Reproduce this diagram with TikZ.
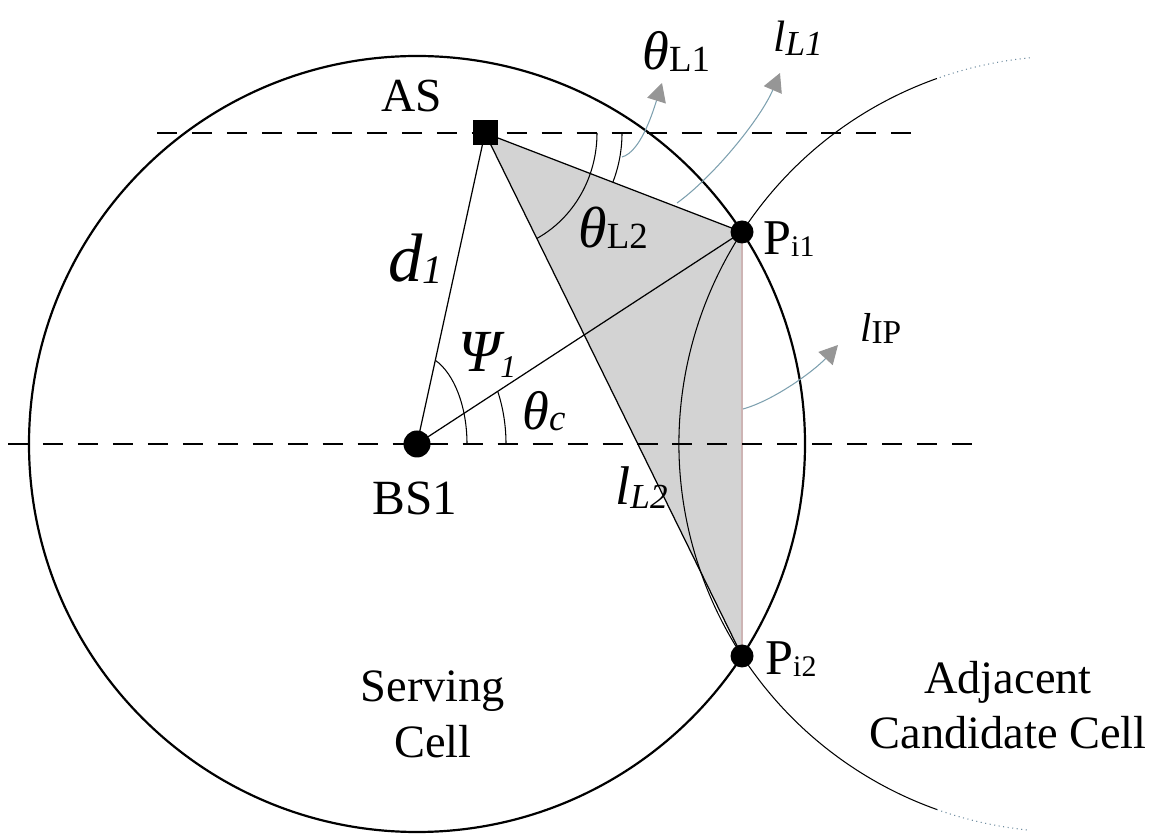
\documentclass[tikz,border=0pt]{standalone}
\usepackage{fontspec}
\setmainfont{Liberation Serif}
\usetikzlibrary{arrows.meta}
\newcommand{\fs}[1]{\fontsize{#1}{#1}\selectfont}
\definecolor{fillg}{RGB}{211,211,211}
\definecolor{edgeg}{RGB}{205,180,180}
\definecolor{arrline}{RGB}{125,160,175}
\definecolor{arrhead}{RGB}{150,150,150}
\definecolor{dotc}{RGB}{110,140,160}
\pgfdeclarelayer{bg}
\pgfsetlayers{bg,main}
\begin{document}
\begin{tikzpicture}[x=0.2mm,y=0.2mm,
 cellc/.style={line width=1.25pt},
 adjc/.style={line width=0.6pt},
 refline/.style={line width=1pt, dash pattern=on 11.4pt off 8.5pt},
 thinline/.style={line width=0.7pt},
 anglearc/.style={line width=0.6pt},
 callout/.style={line width=0.6pt, draw=arrline, -{Triangle[length=10.5pt,width=11pt,color=arrhead]}},
 dotnode/.style={circle, fill=black, inner sep=0pt, minimum size=#1},
 lab/.style={inner sep=0pt, anchor=base west},
]
\useasboundingbox (0,0) rectangle (1163,835);
\coordinate (C1) at (417,391);
\coordinate (C2) at (1067,391);
\node[dotnode=5.4mm] (BS1) at (417,391) {};
\node[dotnode=4.6mm] (Pi1) at (742,603) {};
\node[dotnode=4.6mm] (Pi2) at (742,179) {};
\node[rectangle, fill=black, inner sep=0pt, minimum size=5mm] (AS) at (485,702) {};
\coordinate (L1a) at (157,702);
\coordinate (L1b) at (915,702);
\coordinate (L2a) at (8,391);
\coordinate (L2b) at (978,391);

\begin{pgfonlayer}{bg}
\fill[fillg] (AS.center) -- (Pi1.center) -- (Pi2.center) -- cycle;
\draw[edgeg, line width=0.8pt] (Pi1.center) -- (Pi2.center);
\draw[refline] (L1a) -- (L1b);
\draw[refline] (L2a) -- (L2b);
\draw[cellc] (C1) circle[radius=388];
\draw[adjc] ([shift={(109.6:388)}]C2) arc[start angle=109.6, end angle=250.4, radius=388];
\draw[adjc, dotc, dotted] ([shift={(95.5:388)}]C2) arc[start angle=95.5, end angle=109.6, radius=388];
\draw[adjc, dotc, dotted] ([shift={(250.4:388)}]C2) arc[start angle=250.4, end angle=264.5, radius=388];
\draw[thinline] (AS.center) -- (BS1.center);
\draw[thinline] (BS1.center) -- (Pi1.center);
\draw[thinline] (AS.center) -- (Pi1.center);
\draw[thinline] (AS.center) -- (Pi2.center);
\draw[anglearc] ([shift={(0:137)}]AS.center) arc[start angle=0, end angle=-21.1, radius=137];
\draw[anglearc] ([shift={(0:112)}]AS.center) arc[start angle=0, end angle=-62.5, x radius=112, y radius=119];
\draw[anglearc] ([shift={(0:50)}]BS1.center) arc[start angle=0, end angle=68.6, x radius=50, y radius=90];
\draw[anglearc] ([shift={(0:89)}]BS1.center) arc[start angle=0, end angle=24.9, x radius=89, y radius=125];
\end{pgfonlayer}

% callout arrows
\coordinate (tL1s) at (622,678);
\coordinate (tL1e) at (662,752);
\coordinate (lL1s) at (677,632);
\coordinate (lL1e) at (780,762);
\coordinate (lIPs) at (743,426);
\coordinate (lIPe) at (838,490);
\draw[callout] (tL1s) .. controls (640,683) and (652,720) .. (tL1e);
\draw[callout] (lL1s) .. controls (712,657) and (760,715) .. (lL1e);
\draw[callout] (lIPs) .. controls (775,435) and (815,465) .. (lIPe);

% labels
\node[inner sep=0pt, anchor=base, font=\fs{27}] (tAS) at (412,723) {AS};
\node[inner sep=0pt, anchor=base, font=\fs{28}] (tBS) at (415,320) {BS1};
\node[lab] (tPi1) at (763,580) {\fs{28.5}P\raisebox{-1pt}{\fs{17}i1}};
\node[lab] (tPi2) at (765,160) {\fs{28.5}P\raisebox{-1pt}{\fs{17}i2}};
\node[lab] (td1) at (388,553) {{\fs{39}\itshape d}\raisebox{-1pt}{\fs{23}\itshape 1}};
\node[lab] (tPsi) at (458,463) {{\fs{34}\itshape Ψ}\raisebox{-3.2pt}{\fs{18}\itshape 1}};
\node[lab] (ttc) at (522,405) {{\fs{31}\itshape θ}\raisebox{-0.5pt}{\fs{21}\itshape c}};
\node[lab] (ttL2) at (578,587) {{\fs{33}\itshape θ}\raisebox{-0.5pt}{\fs{21}L2}};
\node[lab] (ttL1) at (642,765) {{\fs{31}\itshape θ}\raisebox{-1pt}{\fs{21}L1}};
\node[lab] (tlL1) at (773,783) {{\fs{25}\itshape l}\raisebox{-2pt}{\fs{20}\itshape L1}};
\node[lab] (tlIP) at (860,493) {{\fs{23}\itshape l}\raisebox{-1pt}{\fs{19}IP}};
\node[lab] (tlL2) at (615,330) {{\fs{31}\itshape l}\raisebox{-2pt}{\fs{20}\itshape L2}};
\node[inner sep=0pt, anchor=north, align=center, font=\fontsize{26.4}{31.9}\selectfont] (serv) at (433,165) {Serving\\Cell};
\node[inner sep=0pt, anchor=north, align=center, font=\fontsize{26.4}{31.3}\selectfont] (adj) at (1008,174) {Adjacent\\Candidate Cell};
\end{tikzpicture}
\end{document}
